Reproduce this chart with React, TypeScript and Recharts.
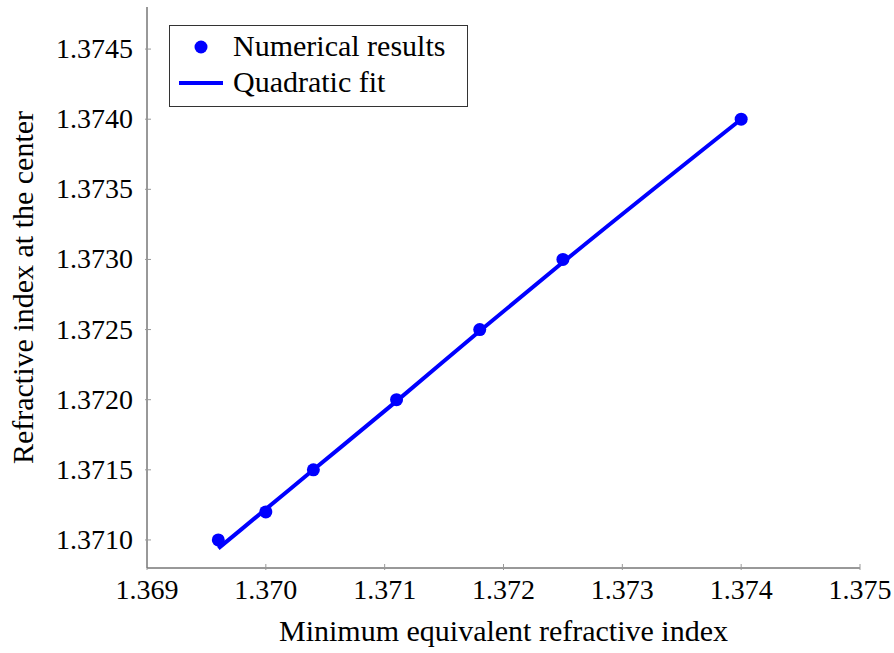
import { ComposedChart, Scatter, Line, XAxis, YAxis, Legend, Label } from "recharts";

const X_TICKS = [1.369, 1.37, 1.371, 1.372, 1.373, 1.374, 1.375];
const Y_TICKS = [1.371, 1.3715, 1.372, 1.3725, 1.373, 1.3735, 1.374, 1.3745];

// numerical results
const RESULT_X = [1.3696, 1.37, 1.3704, 1.3711, 1.3718, 1.3725, 1.374];
const RESULT_Y = [1.371, 1.3712, 1.3715, 1.372, 1.3725, 1.373, 1.374];
// quadratic fit at the same x positions
const FIT_Y = [1.37094, 1.37122, 1.3715, 1.37199, 1.37249, 1.37298, 1.374];

const results = RESULT_X.map((x, i) => ({ x, y: RESULT_Y[i] }));
const fit = RESULT_X.map((x, i) => ({ x, y: FIT_Y[i] }));

const BLUE = "#0000ff";
const FRAME = "#333";
const TICK = "#999";
const NUM_FS = 28;
const WORD_FS = 30;

const BottomTick = (p: any) => (
  <g>
    <line x1={p.x} x2={p.x} y1={p.y} y2={p.y - 6} stroke={TICK} />
    <text x={p.x} y={p.y + 29} textAnchor="middle" fontFamily="Times New Roman" fontSize={NUM_FS} fill="#000">
      {p.payload.value.toFixed(3)}
    </text>
  </g>
);

const LeftTick = (p: any) => (
  <g>
    <line x1={p.x} x2={p.x + 6} y1={p.y} y2={p.y} stroke={TICK} />
    <text x={p.x - 12} y={p.y + 9} textAnchor="end" fontFamily="serif" fontSize={NUM_FS} fill="#000">
      {p.payload.value.toFixed(4)}
    </text>
  </g>
);

const TopTick = (p: any) => <line x1={p.x} x2={p.x} y1={p.y} y2={p.y + 6} stroke={TICK} />;
const RightTick = (p: any) => <line x1={p.x - 6} x2={p.x} y1={p.y} y2={p.y} stroke={TICK} />;

const Dot = (p: any) => <circle cx={p.cx} cy={p.cy} r={6.5} fill={BLUE} />;

const LegendBox = () => (
  <div style={{ width: 297, height: 80, border: `1px solid ${FRAME}`, background: "#fff", position: "relative", fontFamily: "Liberation Serif", fontSize: WORD_FS }}>
    <svg width={60} height={80} style={{ position: "absolute", left: 0, top: 0 }}>
      <circle cx={31} cy={21} r={6.5} fill={BLUE} />
      <line x1={9} x2={53} y1={57} y2={57} stroke={BLUE} strokeWidth={4} />
    </svg>
    <div style={{ position: "absolute", left: 63, top: 3, lineHeight: "34px" }}>Numerical results</div>
    <div style={{ position: "absolute", left: 63, top: 39, lineHeight: "34px" }}>Quadratic fit</div>
  </div>
);

export default function App() {
  return (
    <div style={{ position: "absolute", left: 0, top: 0 }}>
      <ComposedChart width={894} height={653} margin={{ top: 7, right: 34, bottom: 0, left: 0 }}>
        <XAxis
          xAxisId={0}
          dataKey="x"
          type="number"
          domain={[1.369, 1.375]}
          ticks={X_TICKS}
          allowDataOverflow
          height={85}
          tickSize={0}
          tickLine={false}
          axisLine={{ stroke: FRAME }}
          tick={BottomTick}
          interval={0}
        >
          <Label
            content={(lp: any) => {
              const vb = lp.viewBox;
              return (
                <text x={vb.x + vb.width / 2} y={vb.y + 73} textAnchor="middle" fontFamily="Liberation Serif" fontSize={WORD_FS} fill="#000">
                  Minimum equivalent refractive index
                </text>
              );
            }}
          />
        </XAxis>
        <XAxis
          xAxisId="top"
          orientation="top"
          dataKey="x"
          type="number"
          domain={[1.369, 1.375]}
          ticks={X_TICKS}
          allowDataOverflow
          height={0}
          tickSize={0}
          tickLine={false}
          axisLine={{ stroke: FRAME }}
          tick={TopTick}
          interval={0}
        />
        <YAxis
          yAxisId={0}
          dataKey="y"
          type="number"
          domain={[1.3708, 1.3748]}
          ticks={Y_TICKS}
          allowDataOverflow
          width={147}
          tickSize={0}
          tickLine={false}
          axisLine={{ stroke: FRAME }}
          tick={LeftTick}
          interval={0}
        >
          <Label
            content={(lp: any) => {
              const vb = lp.viewBox;
              const cx = 33;
              const cy = vb.y + vb.height / 2;
              return (
                <text x={cx} y={cy} transform={`rotate(-90 ${cx} ${cy})`} textAnchor="middle" style={{ fontFamily: "Liberation Serif", fontSize: WORD_FS }} fill="#000">
                  Refractive index at the center
                </text>
              );
            }}
          />
        </YAxis>
        <YAxis
          yAxisId="right"
          orientation="right"
          dataKey="y"
          type="number"
          domain={[1.3708, 1.3748]}
          ticks={Y_TICKS}
          allowDataOverflow
          width={0}
          tickSize={0}
          tickLine={false}
          axisLine={{ stroke: FRAME }}
          tick={RightTick}
          interval={0}
        />
        <Legend
          layout="vertical"
          align="center"
          verticalAlign="middle"
          wrapperStyle={{ left: 169, top: 25, width: 299, height: 82 }}
          content={() => <LegendBox />}
        />
        <Scatter data={results} dataKey="y" fill={BLUE} shape={Dot} isAnimationActive={false} />
        <Line data={fit} dataKey="y" type="monotone" stroke={BLUE} strokeWidth={4} dot={false} activeDot={false} isAnimationActive={false} />
      </ComposedChart>
    </div>
  );
}
